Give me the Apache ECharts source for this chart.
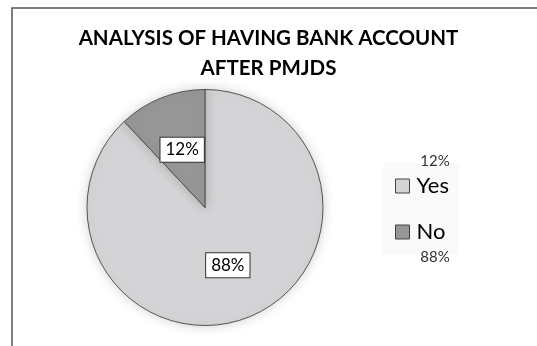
<!DOCTYPE html>
<html><head><meta charset="utf-8">
<script src="https://cdn.jsdelivr.net/npm/echarts@6/dist/echarts.min.js"></script>
<style>html,body{margin:0;padding:0;background:#fff}#c{width:537px;height:346px}</style>
</head><body><div id="c"></div>
<script>
const titleText = 'ANALYSIS OF HAVING BANK ACCOUNT\nAFTER PMJDS';
const categories = ['Yes', 'No'];
const values = [88, 12];
const sliceColors = ['#d4d4d6', '#969696'];
const extraLabels = ['12%', '88%'];

const chart = echarts.init(document.getElementById('c'), null, {renderer: 'canvas'});
const FONT = 'Lato';
chart.setOption({
  backgroundColor: '#ffffff',
  animation: false,
  title: {
    text: titleText,
    left: 'center',
    top: 18,
    textStyle: {fontFamily: FONT, fontWeight: 'bold', fontSize: 20.5, lineHeight: 30, color: '#000'}
  },
  legend: {
    orient: 'vertical',
    left: 383, top: 163,
    padding: [12, 10, 12, 12],
    backgroundColor: '#fafafa',
    itemWidth: 14, itemHeight: 14, itemGap: 24,
    icon: 'rect',
    data: categories,
    itemStyle: {borderColor: '#444', borderWidth: 1},
    textStyle: {fontFamily: FONT, fontSize: 22, color: '#000', padding: [0,0,0,2]}
  },
  graphic: [
    {type: 'rect', shape: {x: 12, y: 8, width: 600, height: 400}, style: {fill: 'none', stroke: '#555', lineWidth: 1.5}, z: -1},
    {type: 'text', x: 435, y: 161, z: 100, style: {text: extraLabels[0], fontFamily: FONT, fontSize: 15, fill: '#333', align: 'center', verticalAlign: 'middle'}},
    {type: 'text', x: 435, y: 257, z: 100, style: {text: extraLabels[1], fontFamily: FONT, fontSize: 15, fill: '#333', align: 'center', verticalAlign: 'middle'}}
  ],
  series: [{
    type: 'pie',
    center: [205, 207.5],
    radius: [0, 118],
    startAngle: 90,
    clockwise: true,
    data: categories.map((c, i) => ({name: c, value: values[i], itemStyle: {color: sliceColors[i]}})),
    itemStyle: {borderColor: '#555', borderWidth: 1, shadowBlur: 12, shadowColor: 'rgba(0,0,0,0.18)'},
    label: {
      position: 'inside',
      formatter: '{d}%',
      fontFamily: FONT, fontSize: 17, color: '#000',
      backgroundColor: '#fff', borderColor: '#333', borderWidth: 1,
      padding: [4, 5, 3, 5]
    },
    labelLine: {show: false},
    emphasis: {disabled: true}
  }]
});
</script></body></html>
